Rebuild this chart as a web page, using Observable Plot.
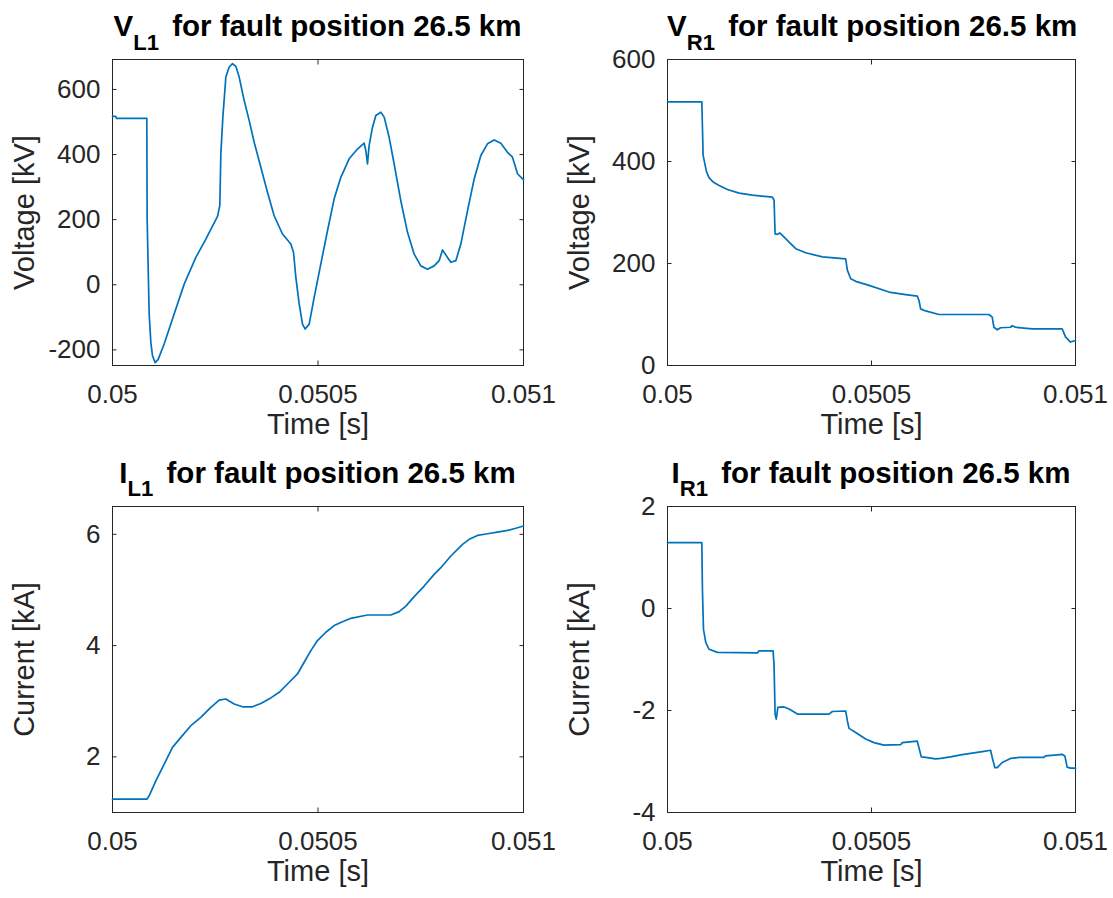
<!DOCTYPE html>
<html>
<head>
<meta charset="utf-8">
<script src="https://cdn.jsdelivr.net/npm/d3@7"></script>
<script src="https://cdn.jsdelivr.net/npm/@observablehq/plot@0.6"></script>
<style>
  body { margin: 0; background: #fff; }
  #fig { position: relative; width: 1113px; height: 898px; background: #fff; overflow: hidden;
         font-family: "Liberation Sans", Arial, Helvetica, sans-serif; }
  .panel { position: absolute; }
  .panel svg { display: block; }
  .title { position: absolute; text-align: center; font-weight: bold; font-size: 29.5px;
           line-height: 1; color: #000; white-space: nowrap; }
  .title .sub { font-size: 0.75em; position: relative; top: 0.62em; margin-right: 5px; }
</style>
</head>
<body>
<div id="fig"></div>
<script>
// ---- data -------------------------------------------------------------
const timeTicks = [0.05, 0.0505, 0.051];
const timeDomain = [0.05, 0.051];
const timeLabel = "Time [s]";
const voltageLabel = "Voltage [kV]";
const currentLabel = "Current [kA]";
const titleRest = " for fault position 26.5 km";

// V_L1 : sending-end voltage, kV
const vL1Time = [0.0500000, 0.0500080, 0.0500100, 0.0500835, 0.0500843, 0.0500892, 0.0500933, 0.0500973,
  0.0501038, 0.0501111, 0.0501257, 0.0501500, 0.0501744, 0.0502028, 0.0502271, 0.0502555,
  0.0502611, 0.0502636, 0.0502685, 0.0502758, 0.0502839, 0.0502920, 0.0503001, 0.0503082,
  0.0503204, 0.0503325, 0.0503447, 0.0503609, 0.0503771, 0.0503933, 0.0504136, 0.0504339,
  0.0504404, 0.0504461, 0.0504542, 0.0504623, 0.0504688, 0.0504785, 0.0504907, 0.0505069,
  0.0505231, 0.0505393, 0.0505556, 0.0505758, 0.0505961, 0.0506123, 0.0506164, 0.0506204,
  0.0506245, 0.0506326, 0.0506407, 0.0506529, 0.0506610, 0.0506731, 0.0506853, 0.0507015,
  0.0507178, 0.0507340, 0.0507502, 0.0507664, 0.0507826, 0.0507948, 0.0508029, 0.0508151,
  0.0508232, 0.0508354, 0.0508475, 0.0508638, 0.0508800, 0.0508962, 0.0509124, 0.0509286,
  0.0509448, 0.0509611, 0.0509732, 0.0509854, 0.0510000];
const vL1Values = [517, 517, 511, 511, 202, -90, -177, -218,
  -239, -229, -182, -90, 2, 84, 140, 210,
  243, 402, 515, 638, 669, 679, 671, 638,
  566, 505, 438, 361, 284, 212, 156, 125,
  100, 23, -59, -121, -136, -121, -39, 64,
  166, 264, 330, 387, 417, 435, 412, 371,
  428, 484, 520, 530, 515, 453, 371, 258,
  161, 94, 58, 48, 58, 74, 107, 84,
  69, 74, 125, 228, 325, 397, 433, 445,
  435, 407, 392, 341, 322];
const vL1Domain = [-248, 692];
const vL1Ticks = [-200, 0, 200, 400, 600];

// V_R1 : receiving-end voltage, kV
const vR1Time = [0.0500000, 0.0500841, 0.0500857, 0.0500873, 0.0500922, 0.0500955, 0.0501020, 0.0501118,
  0.0501265, 0.0501469, 0.0501755, 0.0502082, 0.0502571, 0.0502612, 0.0502637, 0.0502694,
  0.0502751, 0.0502816, 0.0502980, 0.0503143, 0.0503388, 0.0503796, 0.0504367, 0.0504408,
  0.0504490, 0.0504612, 0.0504939, 0.0505429, 0.0505837, 0.0506122, 0.0506163, 0.0506204,
  0.0506327, 0.0506653, 0.0507878, 0.0507959, 0.0508000, 0.0508082, 0.0508163, 0.0508408,
  0.0508449, 0.0508531, 0.0508939, 0.0509673, 0.0509755, 0.0509878, 0.0510000];
const vR1Values = [517, 517, 465, 412, 393, 380, 368, 360,
  353, 345, 338, 334, 330, 324, 258, 257,
  260, 255, 242, 229, 221, 213, 209, 187,
  170, 165, 157, 144, 139, 136, 128, 111,
  107, 100, 100, 95, 75, 70, 74, 75,
  78, 75, 72, 72, 56, 46, 49];
const vR1Domain = [0, 600];
const vR1Ticks = [0, 200, 400, 600];

// I_L1 : sending-end current, kA
const iL1Time = [0.0500000, 0.0500835, 0.0500892, 0.0501054, 0.0501257, 0.0501460, 0.0501663, 0.0501906,
  0.0502149, 0.0502392, 0.0502595, 0.0502758, 0.0502960, 0.0503163, 0.0503406, 0.0503609,
  0.0503852, 0.0504055, 0.0504258, 0.0504501, 0.0504663, 0.0504826, 0.0504988, 0.0505191,
  0.0505393, 0.0505596, 0.0505799, 0.0506204, 0.0506772, 0.0506975, 0.0507137, 0.0507340,
  0.0507583, 0.0507826, 0.0507989, 0.0508232, 0.0508516, 0.0508678, 0.0508881, 0.0509124,
  0.0509367, 0.0509611, 0.0509813, 0.0510000];
const iL1Values = [1.24, 1.24, 1.30, 1.57, 1.87, 2.17, 2.35, 2.56,
  2.71, 2.89, 3.02, 3.04, 2.95, 2.90, 2.90, 2.96,
  3.06, 3.16, 3.31, 3.49, 3.70, 3.91, 4.09, 4.24,
  4.36, 4.43, 4.49, 4.55, 4.55, 4.61, 4.71, 4.88,
  5.07, 5.28, 5.40, 5.61, 5.82, 5.91, 5.98, 6.01,
  6.04, 6.07, 6.11, 6.15];
const iL1Domain = [1, 6.5];
const iL1Ticks = [2, 4, 6];

// I_R1 : receiving-end current, kA
const iR1Time = [0.0500000, 0.0500841, 0.0500857, 0.0500882, 0.0500939, 0.0501020, 0.0501224, 0.0502204,
  0.0502245, 0.0502588, 0.0502612, 0.0502637, 0.0502665, 0.0502705, 0.0502857, 0.0502980,
  0.0503184, 0.0503959, 0.0504041, 0.0504367, 0.0504408, 0.0504449, 0.0504612, 0.0504857,
  0.0505061, 0.0505306, 0.0505714, 0.0505755, 0.0506122, 0.0506163, 0.0506220, 0.0506327,
  0.0506571, 0.0506694, 0.0506939, 0.0507184, 0.0507429, 0.0507755, 0.0507918, 0.0507959,
  0.0508024, 0.0508082, 0.0508204, 0.0508408, 0.0508612, 0.0509224, 0.0509265, 0.0509551,
  0.0509673, 0.0509739, 0.0509796, 0.0509878, 0.0510000];
const iR1Values = [1.29, 1.29, 0.35, -0.41, -0.67, -0.80, -0.86, -0.87,
  -0.83, -0.83, -1.12, -2.07, -2.17, -1.94, -1.93, -1.97,
  -2.07, -2.07, -2.02, -2.01, -2.20, -2.35, -2.43, -2.56,
  -2.63, -2.68, -2.67, -2.63, -2.60, -2.73, -2.91, -2.92,
  -2.95, -2.94, -2.91, -2.87, -2.84, -2.80, -2.78, -2.92,
  -3.12, -3.12, -3.02, -2.94, -2.92, -2.92, -2.89, -2.87,
  -2.86, -2.89, -3.11, -3.13, -3.13];
const iR1Domain = [-4, 2];
const iR1Ticks = [-4, -2, 0, 2];

// ---- layout -----------------------------------------------------------
const columns = [
  {left: 0, width: 556, ml: 112, mr: 33},
  {left: 556, width: 557, ml: 111, mr: 38}
];
const rows = [
  {top: 40, height: 405, mt: 19, mb: 80, titleTop: 11},
  {top: 486, height: 412, mt: 20, mb: 86, titleTop: 457.5}
];

const panels = [
  {sym: "V", sub: "L1", t: vL1Time, v: vL1Values, domain: vL1Domain, ticks: vL1Ticks, ylabel: voltageLabel, col: 0, row: 0},
  {sym: "V", sub: "R1", t: vR1Time, v: vR1Values, domain: vR1Domain, ticks: vR1Ticks, ylabel: voltageLabel, col: 1, row: 0},
  {sym: "I", sub: "L1", t: iL1Time, v: iL1Values, domain: iL1Domain, ticks: iL1Ticks, ylabel: currentLabel, col: 0, row: 1},
  {sym: "I", sub: "R1", t: iR1Time, v: iR1Values, domain: iR1Domain, ticks: iR1Ticks, ylabel: currentLabel, col: 1, row: 1}
];

const axisColor = "#262626";
const lineColor = "#0072BD";
const tickLen = -4.5; // ticks point into the plot box
const fmt = d => String(d);

const fig = document.getElementById("fig");

for (const p of panels) {
  const c = columns[p.col], r = rows[p.row];
  const data = p.t.map((t, i) => ({t, v: p.v[i]}));

  const chart = Plot.plot({
    width: c.width,
    height: r.height,
    marginLeft: c.ml,
    marginRight: c.mr,
    marginTop: r.mt,
    marginBottom: r.mb,
    style: {fontFamily: "'Liberation Sans', Arial, Helvetica, sans-serif", fontSize: "26px", color: axisColor, background: "transparent", overflow: "visible"},
    x: {domain: timeDomain},
    y: {domain: p.domain},
    marks: [
      Plot.frame({stroke: axisColor, strokeWidth: 1}),
      Plot.axisX(timeTicks, {anchor: "bottom", tickSize: tickLen, tickPadding: 23.5, tickFormat: fmt, label: null}),
      Plot.axisX(timeTicks, {anchor: "top", tickSize: tickLen, fill: "none", label: null}),
      Plot.axisY(p.ticks, {anchor: "left", tickSize: tickLen, tickPadding: 16.5, tickFormat: fmt, label: null}),
      Plot.axisY(p.ticks, {anchor: "right", tickSize: tickLen, fill: "none", label: null}),
      Plot.text([timeLabel], {text: d => d, frameAnchor: "bottom", lineAnchor: "middle", textAnchor: "middle", dy: 59, fontSize: 29, fill: axisColor}),
      Plot.text([p.ylabel], {text: d => d, frameAnchor: "left", lineAnchor: "middle", textAnchor: "middle", rotate: -90, dx: -88, fontSize: 29, fill: axisColor}),
      Plot.line(data, {x: "t", y: "v", stroke: lineColor, strokeWidth: 1.7})
    ]
  });

  const holder = document.createElement("div");
  holder.className = "panel";
  holder.style.left = c.left + "px";
  holder.style.top = r.top + "px";
  holder.appendChild(chart);
  fig.appendChild(holder);

  const title = document.createElement("div");
  title.className = "title";
  title.style.left = (c.left + c.ml) + "px";
  title.style.width = (c.width - c.ml - c.mr) + "px";
  title.style.top = r.titleTop + "px";
  const sub = document.createElement("span");
  sub.className = "sub";
  sub.textContent = p.sub;
  title.append(p.sym, sub, titleRest);
  fig.appendChild(title);
}
</script>
</body>
</html>
